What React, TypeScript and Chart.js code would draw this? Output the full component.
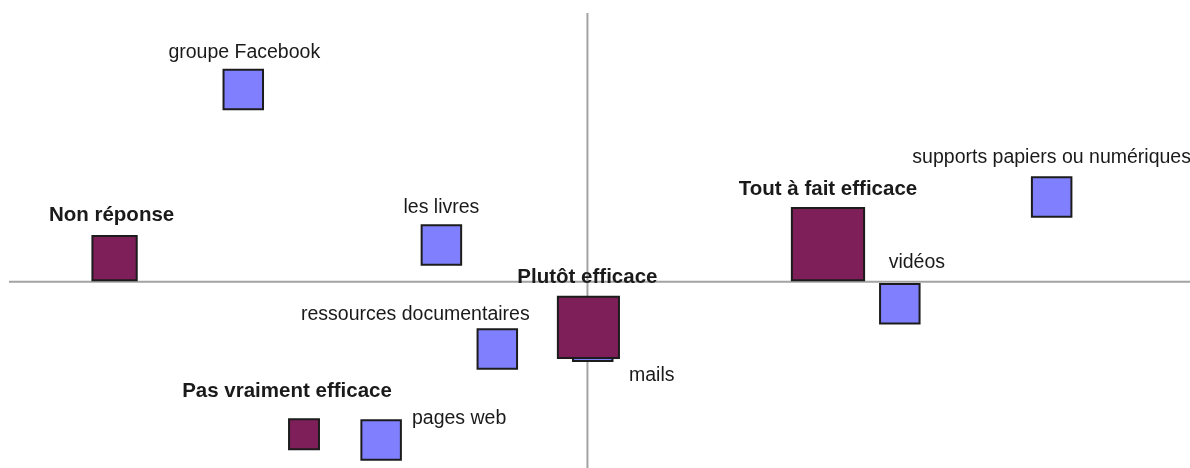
import React, { useEffect, useRef } from "react";
import { Chart, registerables } from "chart.js";

Chart.register(...registerables);

// Modalités "supports" (points bleus)
const supportLabels = [
  "groupe Facebook",
  "les livres",
  "supports papiers ou numériques",
  "vidéos",
  "mails",
  "ressources documentaires",
  "pages web",
];
const supportX = [-0.714, -0.303, 0.963, 0.648, 0.011, -0.187, -0.428];
const supportY = [0.399, 0.076, 0.176, -0.046, -0.124, -0.14, -0.329];

// Modalités "efficacité" (points bordeaux)
const efficacyLabels = [
  "Non réponse",
  "Tout à fait efficace",
  "Plutôt efficace",
  "Pas vraiment efficace",
];
const efficacyX = [-0.981, 0.499, 0.002, -0.588];
const efficacyY = [0.049, 0.078, -0.095, -0.317];
const efficacyCounts = [21, 54, 39, 10];

// Axis extents
const xRange = [-1.2, 1.25];
const yRange = [-0.387, 0.558];

// Label placement (pixel offsets from the marker centre: dx, dy of text centre / baseline)
const supportLabelOffsets = [
  [1, -32],
  [0, -32],
  [0, -34],
  [17, -36],
  [59, 40],
  [-82, -29],
  [78, -16],
];
const efficacyLabelOffsets = [
  [-3, -37],
  [0, -49],
  [-1, -44],
  [-17, -37],
];

const BLUE = "#8080FF";
const MAROON = "#7F1F5A";
const BORDER = "#1c1c1c";
const BORDER_W = 2;
const BLUE_SIDE = 41.5;
const SIZE_K = 10.1;

const sideToRadius = (side: number) => (side - BORDER_W) / Math.SQRT2;

const crossAndLabels = {
  id: "crossAndLabels",
  beforeDatasetsDraw(chart: any) {
    const { ctx, chartArea, scales } = chart;
    const x0 = scales.x.getPixelForValue(0);
    const y0 = scales.y.getPixelForValue(0);
    ctx.save();
    ctx.strokeStyle = "#a3a3a3";
    ctx.lineWidth = 2;
    ctx.beginPath();
    ctx.moveTo(x0, chartArea.top);
    ctx.lineTo(x0, chartArea.bottom);
    ctx.moveTo(chartArea.left, y0);
    ctx.lineTo(chartArea.right, y0);
    ctx.stroke();
    ctx.restore();
  },
  afterDatasetsDraw(chart: any) {
    const { ctx } = chart;
    const draw = (dsIndex: number, labels: string[], offsets: number[][], font: string) => {
      const meta = chart.getDatasetMeta(dsIndex);
      ctx.save();
      ctx.font = font;
      ctx.fillStyle = "#1a1a1a";
      ctx.textAlign = "center";
      ctx.textBaseline = "alphabetic";
      meta.data.forEach((el: any, i: number) => {
        const [dx, dy] = offsets[i];
        ctx.fillText(labels[i], el.x + dx, el.y + dy);
      });
      ctx.restore();
    };
    draw(0, efficacyLabels, efficacyLabelOffsets, "bold 20.5px 'Liberation Sans', Arial, sans-serif");
    draw(1, supportLabels, supportLabelOffsets, "19.5px 'Liberation Sans', Arial, sans-serif");
  },
};

export default function App() {
  const canvasRef = useRef<HTMLCanvasElement | null>(null);

  useEffect(() => {
    if (!canvasRef.current) return;
    const chart = new Chart(canvasRef.current, {
      type: "scatter",
      data: {
        datasets: [
          {
            label: "Efficacité",
            data: efficacyX.map((x, i) => ({ x, y: efficacyY[i] })),
            pointStyle: "rect",
            pointRadius: efficacyCounts.map((c) => sideToRadius(SIZE_K * Math.sqrt(c))),
            backgroundColor: MAROON,
            borderColor: BORDER,
            borderWidth: BORDER_W,
          },
          {
            label: "Supports",
            data: supportX.map((x, i) => ({ x, y: supportY[i] })),
            pointStyle: "rect",
            pointRadius: sideToRadius(BLUE_SIDE),
            backgroundColor: BLUE,
            borderColor: BORDER,
            borderWidth: BORDER_W,
          },
        ],
      },
      options: {
        animation: false,
        responsive: false,
        maintainAspectRatio: false,
        events: [],
        layout: { autoPadding: false, padding: { left: 9, top: 13, right: 0, bottom: 0 } },
        plugins: {
          legend: { display: false },
          tooltip: { enabled: false },
        },
        scales: {
          x: { type: "linear", min: xRange[0], max: xRange[1], display: false },
          y: { type: "linear", min: yRange[0], max: yRange[1], display: false },
        },
      },
      plugins: [crossAndLabels],
    });
    return () => chart.destroy();
  }, []);

  return (
    <div style={{ position: "fixed", left: 0, top: 0, width: 1190, height: 468, background: "#fff" }}>
      <canvas ref={canvasRef} width={1190} height={468} style={{ display: "block" }} />
    </div>
  );
}
